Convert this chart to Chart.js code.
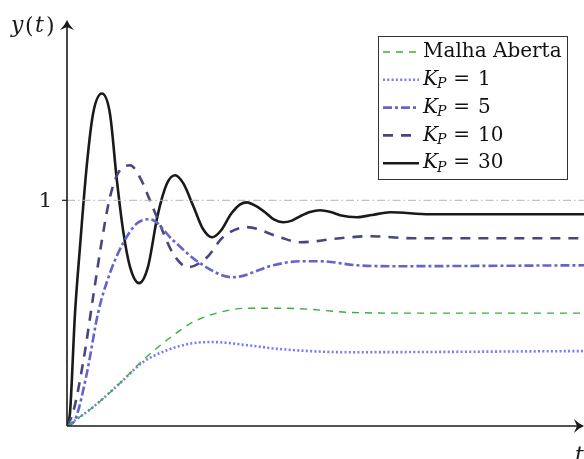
<!DOCTYPE html>
<html>
<head>
<meta charset="utf-8">
<script src="https://cdn.jsdelivr.net/npm/chart.js@4"></script>
<style>
  html, body { margin: 0; padding: 0; background: #fff; }
  #wrap { width: 584px; height: 459px; position: relative; }
</style>
</head>
<body>
<div id="wrap"><canvas id="chart" width="584" height="459"></canvas></div>
<script>
// step responses (t in arbitrary units, 0..20)
const tOpen = [0, 1.01, 2.05, 2.94, 3.87, 4.87, 5.92, 6.96, 8.12, 9.28, 10.83, 13.38, 20];
const yOpen = [0, 0.084, 0.19, 0.292, 0.381, 0.46, 0.504, 0.522, 0.522, 0.518, 0.504, 0.5, 0.5];

const tKp1 = [0, 1.01, 2.05, 2.94, 3.87, 4.87, 5.65, 6.96, 8.24, 10.83, 20];
const yKp1 = [0, 0.084, 0.19, 0.283, 0.336, 0.367, 0.372, 0.358, 0.341, 0.327, 0.332];

const tKp5 = [0, 0.31, 0.77, 1.2, 1.66, 2.17, 2.71, 3.21, 4.1, 5.15, 6.42, 7.97, 9.01, 9.79, 11.22, 12.5, 20];
const yKp5 = [0, 0.027, 0.235, 0.5, 0.677, 0.81, 0.898, 0.916, 0.823, 0.721, 0.659, 0.712, 0.73, 0.73, 0.712, 0.708, 0.712];

const tKp10 = [0, 0.23, 0.62, 1.01, 1.35, 1.66, 1.97, 2.44, 2.82, 3.21, 3.48, 4.1, 4.68, 5.42, 6.03, 6.96, 8.24, 9.01, 10.56, 11.72, 13.38, 20];
const yKp10 = [0, 0.058, 0.279, 0.571, 0.823, 1.013, 1.119, 1.155, 1.102, 1.0, 0.925, 0.765, 0.704, 0.748, 0.836, 0.881, 0.836, 0.814, 0.832, 0.841, 0.832, 0.832];

const tKp30 = [0, 0.116, 0.31, 0.5, 0.77, 1.01, 1.35, 1.66, 1.93, 2.17, 2.44, 2.79, 3.13, 3.5, 3.85, 4.18, 4.5, 4.9, 5.25, 5.61, 5.95, 6.35, 6.7, 6.96, 7.3, 7.66, 8.0, 8.36, 8.7, 9.01, 9.4, 9.79, 10.2, 10.56, 11.22, 11.8, 12.5, 14.04, 20];
const yKp30 = [0, 0.058, 0.5, 0.79, 1.16, 1.385, 1.473, 1.385, 1.088, 0.867, 0.704, 0.633, 0.704, 0.93, 1.07, 1.111, 1.075, 0.97, 0.875, 0.836, 0.865, 0.94, 0.982, 0.991, 0.975, 0.947, 0.915, 0.903, 0.91, 0.929, 0.948, 0.956, 0.948, 0.934, 0.925, 0.935, 0.947, 0.938, 0.938];

const yTicks = [1];
const tRange = [0, 20];
const yRange = [0, 1.79];

const legendNames = ["Malha Aberta", "K_P = 1", "K_P = 5", "K_P = 10", "K_P = 30"];

function pts(ts, ys) {
  return ts.map((t, i) => ({ x: t, y: ys[i] }));
}

const serif = '"DejaVu Serif", "Liberation Serif", serif';
const fs = 20;

// axes with arrows, tick on y, axis labels
const axesPlugin = {
  id: "axes",
  afterDatasetsDraw(chart) {
    const ctx = chart.ctx;
    const xs = chart.scales.x;
    const ys = chart.scales.y;
    const x0 = xs.getPixelForValue(0);
    const y0 = ys.getPixelForValue(0);
    ctx.save();
    ctx.strokeStyle = "#1a1a1a";
    ctx.fillStyle = "#1a1a1a";
    ctx.lineWidth = 1.6;
    // y axis
    ctx.beginPath();
    ctx.moveTo(x0, y0);
    ctx.lineTo(x0, 26);
    ctx.stroke();
    // x axis
    ctx.beginPath();
    ctx.moveTo(x0, y0);
    ctx.lineTo(578, y0);
    ctx.stroke();

    function arrow(tx, ty, dir) {
      ctx.save();
      ctx.translate(tx, ty);
      ctx.rotate(dir);
      ctx.beginPath();
      ctx.moveTo(0, 0);
      ctx.quadraticCurveTo(-5, 2, -10, 7);
      ctx.lineTo(-7, 0);
      ctx.lineTo(-10, -7);
      ctx.quadraticCurveTo(-5, -2, 0, 0);
      ctx.closePath();
      ctx.fill();
      ctx.restore();
    }
    arrow(x0, 20, -Math.PI / 2);
    arrow(584, y0, 0);

    // y ticks
    ctx.lineWidth = 1.2;
    ctx.font = "21px " + serif;
    ctx.textAlign = "right";
    ctx.textBaseline = "middle";
    yTicks.forEach((v) => {
      const py = ys.getPixelForValue(v);
      ctx.beginPath();
      ctx.moveTo(x0 - 5, py);
      ctx.lineTo(x0, py);
      ctx.stroke();
      ctx.fillText(String(v), x0 - 15, py + 1);
    });

    // axis labels
    ctx.textAlign = "left";
    ctx.textBaseline = "alphabetic";
    ctx.font = "italic 22px " + serif;
    ctx.fillText("y", 11, 32);
    ctx.font = "22px " + serif;
    ctx.fillText("(", 25, 33);
    ctx.font = "italic 22px " + serif;
    ctx.fillText("t", 35, 32);
    ctx.font = "22px " + serif;
    ctx.fillText(")", 46, 33);
    ctx.font = "italic 22px " + serif;
    ctx.fillText("t", 575, 462);
    ctx.restore();
  },
};

// legend box drawn by hand so the subscripts come out right
const legendPlugin = {
  id: "mathLegend",
  afterDraw(chart) {
    const ctx = chart.ctx;
    const bx = 378, by = 36, bw = 189, bh = 143;
    ctx.save();
    ctx.fillStyle = "#fff";
    ctx.fillRect(bx, by, bw, bh);
    ctx.strokeStyle = "#333";
    ctx.lineWidth = 1;
    ctx.strokeRect(bx + 0.5, by + 0.5, bw, bh);

    const sets = chart.data.datasets.filter((d) => d.legendIdx !== undefined);
    sets.forEach((ds) => {
      const i = ds.legendIdx;
      const cy = 52 + i * 27.8;
      ctx.save();
      ctx.strokeStyle = ds.borderColor;
      ctx.lineWidth = ds.borderWidth;
      ctx.setLineDash(ds.borderDash || []);
      ctx.beginPath();
      ctx.moveTo(383, cy);
      ctx.lineTo(419, cy);
      ctx.stroke();
      ctx.restore();

      ctx.fillStyle = "#111";
      ctx.textBaseline = "middle";
      ctx.textAlign = "left";
      const name = legendNames[i];
      let x = 423;
      if (name.startsWith("K_P")) {
        ctx.font = "italic " + fs + "px " + serif;
        ctx.fillText("K", x, cy);
        x += ctx.measureText("K").width - 1;
        ctx.font = "italic 14px " + serif;
        ctx.fillText("P", x, cy + 5);
        x += ctx.measureText("P").width + 7;
        ctx.font = fs + "px " + serif;
        const rest = name.slice(3).trim().split(" ");
        ctx.fillText(rest[0], x, cy);
        x += ctx.measureText(rest[0]).width + 8;
        ctx.fillText(rest[1], x, cy);
      } else {
        ctx.font = fs + "px " + serif;
        ctx.fillText(name, x, cy);
      }
    });
    ctx.restore();
  },
};

const common = {
  pointRadius: 0,
  fill: false,
  cubicInterpolationMode: "monotone",
};

new Chart(document.getElementById("chart"), {
  type: "line",
  data: {
    datasets: [
      {
        ...common,
        data: pts(tRange, [1, 1]),
        borderColor: "#b3b3b3",
        borderWidth: 1,
        borderDash: [8, 3, 1.5, 3],
      },
      {
        ...common,
        legendIdx: 0,
        data: pts(tOpen, yOpen),
        borderColor: "#33b233",
        borderWidth: 1.4,
        borderDash: [7, 6],
      },
      {
        ...common,
        legendIdx: 1,
        data: pts(tKp1, yKp1),
        borderColor: "#7b7bf5",
        borderWidth: 2.6,
        borderDash: [2, 2.3],
      },
      {
        ...common,
        legendIdx: 2,
        data: pts(tKp5, yKp5),
        borderColor: "#6464cc",
        borderWidth: 2.6,
        borderDash: [9, 3, 3, 3],
      },
      {
        ...common,
        legendIdx: 3,
        data: pts(tKp10, yKp10),
        borderColor: "#474780",
        borderWidth: 2.6,
        borderDash: [10, 8],
      },
      {
        ...common,
        legendIdx: 4,
        data: pts(tKp30, yKp30),
        borderColor: "#1a1a1a",
        borderWidth: 2.6,
      },
    ],
  },
  options: {
    responsive: false,
    animation: false,
    layout: { padding: { left: 67, right: 0, top: 22, bottom: 33 } },
    plugins: {
      legend: { display: false },
      tooltip: { enabled: false },
    },
    scales: {
      x: { type: "linear", min: tRange[0], max: tRange[1], display: false },
      y: { type: "linear", min: yRange[0], max: yRange[1], display: false },
    },
  },
  plugins: [axesPlugin, legendPlugin],
});
</script>
</body>
</html>
